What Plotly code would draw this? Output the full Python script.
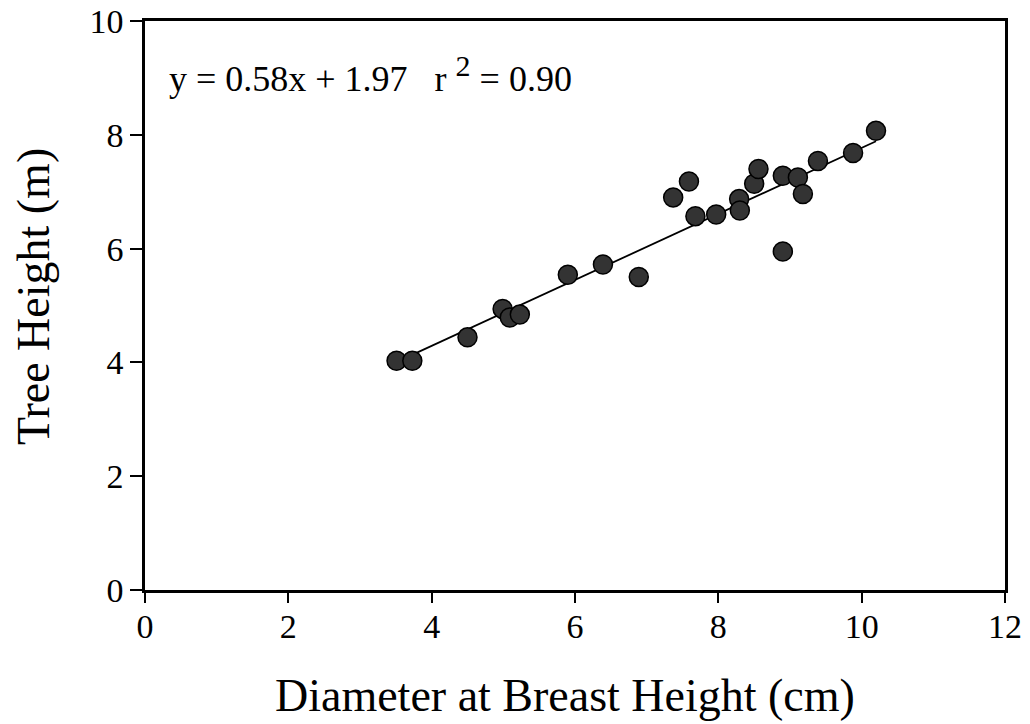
import plotly.graph_objects as go

dbh = [3.51, 3.73, 4.50, 4.99, 5.09, 5.23, 5.90, 6.39, 6.89,
       7.37, 7.59, 7.68, 7.97, 8.29, 8.30, 8.50, 8.56, 8.90, 9.11,
       9.18, 9.39, 9.88, 10.20, 8.90]
height = [4.03, 4.03, 4.44, 4.94, 4.79, 4.84, 5.54, 5.72, 5.50,
          6.90, 7.18, 6.57, 6.60, 6.87, 6.67, 7.14, 7.40, 7.28, 7.25,
          6.96, 7.54, 7.68, 8.07, 5.95]
slope = 0.58
intercept = 1.97
fit_x = [3.5, 10.2]
fit_y = [slope * v + intercept for v in fit_x]
x_ticks = [0, 2, 4, 6, 8, 10, 12]
y_ticks = [0, 2, 4, 6, 8, 10]
x_title = "Diameter at Breast Height (cm)"
y_title = "Tree Height (m)"
equation = "y = 0.58x + 1.97   r <sup><span style='font-size:30px'>2</span></sup> = 0.90"

FONT = "Liberation Serif"

fig = go.Figure()
fig.add_trace(go.Scatter(x=fit_x, y=fit_y, mode="lines",
                         line=dict(color="black", width=1.8), hoverinfo="skip"))
fig.add_trace(go.Scatter(x=dbh, y=height, mode="markers",
                         marker=dict(size=19, color="#333333",
                                     line=dict(color="black", width=1.5))))

fig.update_layout(
    width=1030, height=724,
    margin=dict(l=137, r=33, t=13, b=142),
    paper_bgcolor="white", plot_bgcolor="white",
    showlegend=False,
    font=dict(family=FONT, color="black"),
    xaxis=dict(range=[0, 12], tickvals=x_ticks, ticks="outside", ticklen=10,
               tickwidth=2, tickcolor="black", ticklabelstandoff=-6,
               showline=True, linecolor="black", linewidth=2.5, mirror=True,
               showgrid=False, zeroline=False, ticklabeloverflow="allow",
               automargin=False,
               tickfont=dict(family=FONT, size=34)),
    yaxis=dict(range=[0, 10], tickvals=y_ticks, ticks="outside", ticklen=12,
               tickwidth=2, tickcolor="black",
               showline=True, linecolor="black", linewidth=2.5, mirror=True,
               showgrid=False, zeroline=False, ticklabeloverflow="allow",
               automargin=False,
               tickfont=dict(family=FONT, size=34)),
    annotations=[
        dict(xref="paper", yref="paper", x=0.025, y=0.907,
             xanchor="left", yanchor="middle", showarrow=False,
             text=equation, font=dict(family=FONT, size=36, color="black")),
        dict(xref="paper", yref="paper", x=0.488, y=-0.186,
             xanchor="center", yanchor="middle", showarrow=False,
             text=x_title, font=dict(family=FONT, size=46, color="black")),
        dict(xref="paper", yref="paper", x=-0.129, y=0.515,
             xanchor="center", yanchor="middle", showarrow=False, textangle=-90,
             text=y_title, font=dict(family=FONT, size=46, color="black")),
    ],
)

fig.write_html("out.html")
